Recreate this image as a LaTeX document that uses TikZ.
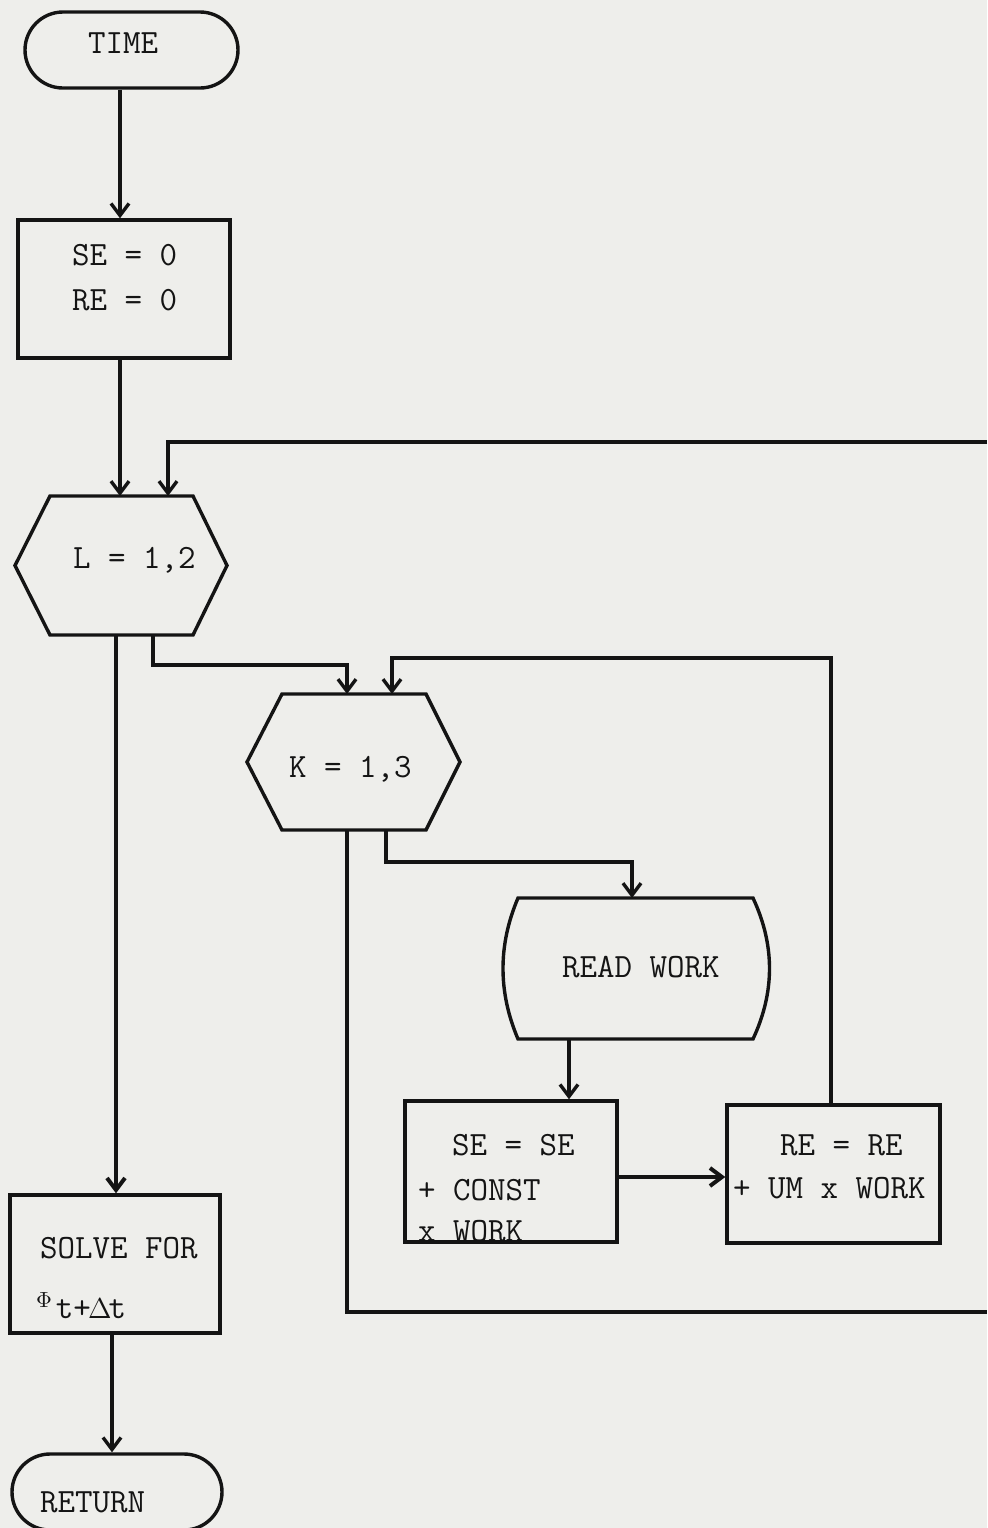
\documentclass[tikz,border=0pt]{standalone}
\usetikzlibrary{arrows.meta,shapes.misc,calc}
\definecolor{paper}{HTML}{EEEEEB}
\definecolor{ink}{HTML}{141414}
\newcommand\twfont{\ttfamily\fontsize{17}{22}\selectfont}
\begin{document}
\begin{tikzpicture}[x=0.5pt,y=-0.5pt, line width=1.7pt, draw=ink,
  box/.style={draw=ink, rectangle, inner sep=0pt},
  term/.style={draw=ink, rounded rectangle, inner sep=0pt},
  ghost/.style={draw=none, rectangle, inner sep=0pt, outer sep=0pt},
  txt/.style={anchor=base west, inner sep=0pt, outer sep=0pt, font=\twfont, text=ink},
  arr/.style={-{Straight Barb[length=6pt,width=9pt]}},
  wire/.style={draw=ink, line join=miter}]
\path[use as bounding box, fill=paper] (0,0) rectangle (987,1528);

% column / row helpers
\coordinate (x112) at (112,0);
\coordinate (x116) at (116,0);
\coordinate (x120) at (120,0);
\coordinate (x153) at (153,0);
\coordinate (x168) at (168,0);
\coordinate (x347) at (347,0);
\coordinate (x386) at (386,0);
\coordinate (x392) at (392,0);
\coordinate (x569) at (569,0);
\coordinate (x632) at (632,0);
\coordinate (x831) at (831,0);
\coordinate (r658) at (0,658);
\coordinate (r665) at (0,665);
\coordinate (r862) at (0,862);
\coordinate (r1177) at (0,1177);
\coordinate (eTop) at (987,442);
\coordinate (eBot) at (987,1312);

% nodes
\node[term, minimum width=106.5pt, minimum height=38pt] (time) at (131.5,50) {};
\node[txt] (timet) at (88,53) {TIME};

\node[box, minimum width=106pt, minimum height=69pt] (init) at (124,289) {};
\node[txt] (init1) at (72,265) {SE = 0};
\node[txt] (init2) at (72,310) {RE = 0};

\node[ghost, minimum width=106pt, minimum height=69.5pt] (L) at (121,565.5) {};
\draw[wire] (L.west) -- ($(L.north west)+(35,0)$) -- ($(L.north east)+(-34,0)$) -- (L.east)
  -- ($(L.south east)+(-34,0)$) -- ($(L.south west)+(35,0)$) -- cycle;
\node[txt] (Lt) at (73,568) {L = 1,2};

\node[ghost, minimum width=106.5pt, minimum height=68pt] (K) at (353.5,762) {};
\draw[wire] (K.west) -- ($(K.north west)+(35,0)$) -- ($(K.north east)+(-34,0)$) -- (K.east)
  -- ($(K.south east)+(-34,0)$) -- ($(K.south west)+(35,0)$) -- cycle;
\node[txt] (Kt) at (289,777) {K = 1,3};

\node[ghost, minimum width=117.5pt, minimum height=70.5pt] (read) at (635.5,968.5) {};
\draw[wire] (read.north west) -- (read.north east)
  .. controls ($(read.north east)+(22,47)$) and ($(read.south east)+(22,-47)$) .. (read.south east)
  -- (read.south west)
  .. controls ($(read.south west)+(-20,-47)$) and ($(read.north west)+(-20,47)$) .. (read.north west) -- cycle;
\node[txt] (readt) at (562,977) {READ WORK};

\node[box, minimum width=106pt, minimum height=70.5pt] (sebox) at (511,1171.5) {};
\node[txt] (se1) at (452,1155) {SE = SE};
\node[txt] (se2) at (418,1200) {+ CONST};
\node[txt] (se3) at (418,1241) {x WORK};

\node[box, minimum width=106.5pt, minimum height=69pt] (rebox) at (833.5,1174) {};
\node[txt] (re1) at (780,1155) {RE = RE};
\node[txt] (re2) at (733,1198) {+ UM x WORK};

\node[box, minimum width=105pt, minimum height=69pt] (solve) at (115,1264) {};
\node[txt] (sv1) at (40,1258) {SOLVE FOR};
\node[txt] (sv2) at (36,1318) {\raisebox{5.5pt}{\fontsize{11}{11}\selectfont$\Phi$}\hspace{2pt}t+\makebox[0.525em]{\fontsize{14}{14}\selectfont$\Delta$}t};

\node[term, minimum width=105pt, minimum height=38pt] (ret) at (117,1492) {};
\node[txt] (rett) at (40,1512) {RETURN};

% connectors
\draw[wire, arr] (time.south -| x120) -- (init.north -| x120);
\draw[wire, arr] (init.south -| x120) -- (L.north -| x120);
\draw[wire, arr] (eTop) -| (L.north -| x168);
\draw[wire, arr, line width=2pt] (L.south -| x116) -- (solve.north -| x116);
\draw[wire, arr] (L.south -| x153) -- (x153 |- r665) -| (K.north -| x347);
\draw[wire, arr] (rebox.north -| x831) -- (x831 |- r658) -| (K.north -| x392);
\draw[wire, arr] (K.south -| x386) -- (x386 |- r862) -| (read.north -| x632);
\draw[wire] (K.south -| x347) |- (eBot);
\draw[wire, arr] (read.south -| x569) -- (sebox.north -| x569);
\draw[wire, arr, line width=2pt] (sebox.east |- r1177) -- (rebox.west |- r1177);
\draw[wire, arr] (solve.south -| x112) -- (ret.north -| x112);
\end{tikzpicture}
\end{document}
